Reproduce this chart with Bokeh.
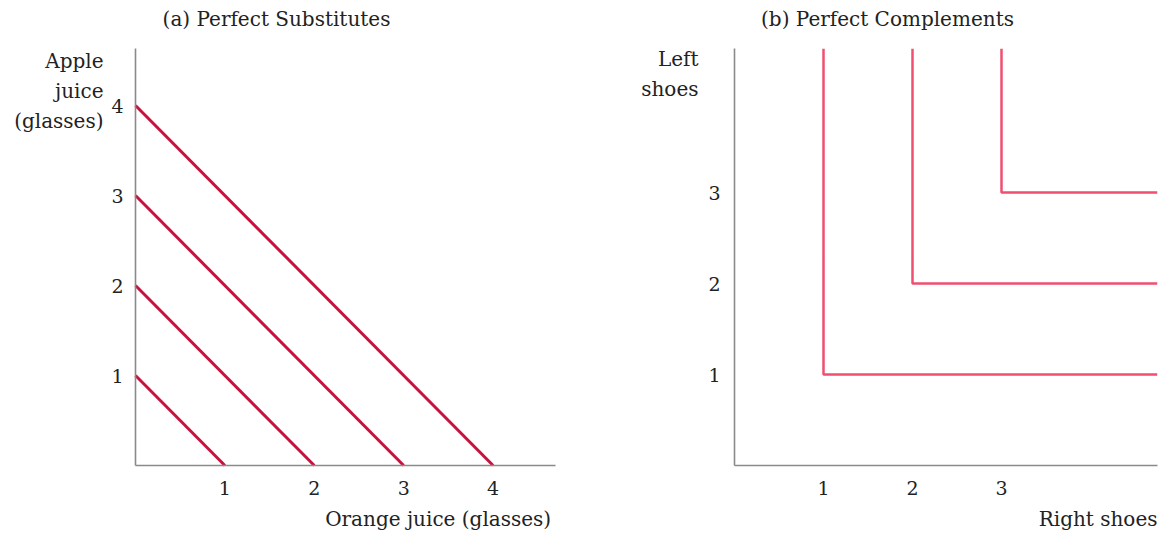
from bokeh.plotting import figure
from bokeh.layouts import row
from bokeh.models import Label, FixedTicker, Range1d
from bokeh.embed import file_html
from bokeh.resources import INLINE

# ---------------- data ----------------
# (a) Perfect substitutes: indifference lines x + y = level
sub_levels = [1, 2, 3, 4]
a_xticks = [1, 2, 3, 4]
a_yticks = [1, 2, 3, 4]
a_title = "(a) Perfect Substitutes"
a_xlabel = "Orange juice  (glasses)"
a_ylabel = ["Apple", "juice", "(glasses)"]

# (b) Perfect complements: L-shaped indifference curves with corner (level, level)
comp_levels = [1, 2, 3]
b_xticks = [1, 2, 3]
b_yticks = [1, 2, 3]
b_title = "(b) Perfect Complements"
b_xlabel = "Right shoes"
b_ylabel = ["Left", "shoes"]

FONT = "DejaVu Serif"
TXT = "#222222"
AXIS = "#8a8a8a"
SUB_COLOR = "#c8123e"
COMP_COLOR = "#f04f70"
H = 533
LSIZE = "20px"


def make_panel(left, width, ox, oy, ux, uy, xmax, ymax, xt, yt):
    """Figure whose frame is the whole canvas; axes drawn at data 0 with bounds.
    left: page x of the canvas; ox, oy: page pixel of the data origin."""
    x0 = -(ox - left) / ux
    x1 = (left + width - ox) / ux
    y0 = -(H - oy) / uy
    y1 = oy / uy
    p = figure(width=width, height=H, x_range=Range1d(x0, x1), y_range=Range1d(y0, y1),
               output_backend="svg", toolbar_location=None, title=None, min_border=0)
    p.grid.visible = False
    p.outline_line_color = None
    for ax, t, b in ((p.xaxis, xt, (0, xmax)), (p.yaxis, yt, (0, ymax))):
        ax.fixed_location = 0
        ax.bounds = b
        ax.ticker = FixedTicker(ticks=t)
        ax.axis_line_color = AXIS
        ax.axis_line_width = 1.6
        ax.major_tick_line_color = None
        ax.minor_tick_line_color = None
        ax.major_tick_out = 0
        ax.major_tick_in = 0
        ax.major_label_text_font = FONT
        ax.major_label_text_font_size = "19px"
        ax.major_label_text_color = TXT
    p.xaxis.major_label_standoff = 15
    p.yaxis.major_label_standoff = 12

    def px(xp):
        return (xp - ox) / ux

    def py(yp):
        return (oy - yp) / uy

    return p, px, py


def lab(p, x, y, text, align="right", size=LSIZE):
    p.add_layout(Label(x=x, y=y, text=text, text_font=FONT, text_font_size=size,
                       text_color=TXT, text_align=align, text_baseline="middle"))


# ---------------- panel (a) ----------------
AX, AY = 4.70, 4.63
pa, pxa, pya = make_panel(0, 598, 135, 465, 89.4, 90.0, AX, AY, a_xticks, a_yticks)
for k in sub_levels:
    pa.line([0, k], [k, 0], line_color=SUB_COLOR, line_width=3.0)

lab(pa, pxa(276), pya(18), a_title, align="center")
lab(pa, pxa(557), pya(518), a_xlabel, align="right")
for i, t in enumerate(a_ylabel):
    lab(pa, pxa(103), pya(60 + 30 * i), t, align="right")

# ---------------- panel (b) ----------------
BX, BY = 4.75, 4.58
pb, pxb, pyb = make_panel(598, 565, 734, 465, 89.0, 91.0, BX, BY, b_xticks, b_yticks)
pb.yaxis.major_label_standoff = 14
for k in comp_levels:
    pb.line([k, k, BX], [BY, k, k], line_color=COMP_COLOR, line_width=2.5)

lab(pb, pxb(887), pyb(18), b_title, align="center")
lab(pb, pxb(1157), pyb(518), b_xlabel, align="right")
for i, t in enumerate(b_ylabel):
    lab(pb, pxb(698), pyb(58 + 30 * i), t, align="right")

layout = row(pa, pb)
open("out.html", "w").write(file_html(layout, INLINE))
